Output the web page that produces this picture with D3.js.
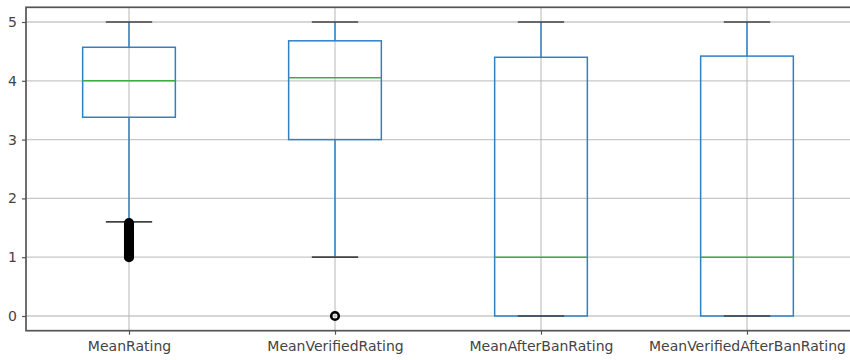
<!DOCTYPE html>
<html><head><meta charset="utf-8">
<script src="https://cdn.jsdelivr.net/npm/d3@7"></script>
<style>body{margin:0;background:#fff;}svg{display:block;font-family:"DejaVu Sans",sans-serif;}</style>
</head><body><svg id="c" width="850" height="360"></svg>
<script>
const categories = ["MeanRating","MeanVerifiedRating","MeanAfterBanRating","MeanVerifiedAfterBanRating"];
const whiskerLow  = [1.6, 1.0, 0.0, 0.0];
const q1          = [3.38, 3.0, 0.0, 0.0];
const median      = [4.0, 4.05, 1.0, 1.0];
const q3          = [4.57, 4.68, 4.4, 4.42];
const whiskerHigh = [5.0, 5.0, 5.0, 5.0];
const outliers = [
  [1.0,1.03,1.06,1.1,1.13,1.17,1.2,1.23,1.27,1.3,1.33,1.36,1.4,1.43,1.46,1.5,1.53,1.56,1.58],
  [0.0],
  [],
  []
];
const yTicks = [0,1,2,3,4,5];

const svg = d3.select("#c");
const L = 26, R = 850, T = 7.3, B = 330.7;
const x = d3.scaleLinear().domain([0.5, 4.5]).range([L, R]);
const y = d3.scaleLinear().domain([-0.25, 5.25]).range([B, T]);
const boxW = 0.45, capW = 0.225;
const blue = "#2f80c4", green = "#3fae3f";

// grid
const g = svg.append("g");
g.selectAll(".gy").data(yTicks).join("line")
  .attr("x1", L).attr("x2", R).attr("y1", d => y(d)).attr("y2", d => y(d))
  .attr("stroke", "#b0b0b0").attr("stroke-opacity", 0.7).attr("stroke-width", 1.3);
g.selectAll(".gx").data(categories).join("line")
  .attr("x1", (d,i) => x(i+1)).attr("x2", (d,i) => x(i+1)).attr("y1", T).attr("y2", B)
  .attr("stroke", "#b0b0b0").attr("stroke-opacity", 0.7).attr("stroke-width", 1.3);

// boxes
const bx = svg.append("g");
categories.forEach((c, i) => {
  const cx = x(i+1);
  const hw = (x(1+boxW/2) - x(1));
  const cw = (x(1+capW/2) - x(1));
  bx.append("line").attr("x1", cx).attr("x2", cx).attr("y1", y(q3[i])).attr("y2", y(whiskerHigh[i]))
    .attr("stroke", blue).attr("stroke-width", 1.5);
  bx.append("line").attr("x1", cx).attr("x2", cx).attr("y1", y(q1[i])).attr("y2", y(whiskerLow[i]))
    .attr("stroke", blue).attr("stroke-width", 1.5);
  bx.append("rect").attr("x", cx - hw).attr("width", 2*hw)
    .attr("y", y(q3[i])).attr("height", y(q1[i]) - y(q3[i]))
    .attr("fill", "none").attr("stroke", blue).attr("stroke-width", 1.5);
  bx.append("line").attr("x1", cx - hw).attr("x2", cx + hw).attr("y1", y(median[i])).attr("y2", y(median[i]))
    .attr("stroke", green).attr("stroke-width", 1.5);
  [whiskerLow[i], whiskerHigh[i]].forEach(v => {
    bx.append("line").attr("x1", cx - cw).attr("x2", cx + cw).attr("y1", y(v)).attr("y2", y(v))
      .attr("stroke", "#444").attr("stroke-width", 1.7);
  });
  bx.selectAll(null).data(outliers[i]).join("circle")
    .attr("cx", cx).attr("cy", d => y(d)).attr("r", 3.8)
    .attr("fill", "none").attr("stroke", "#000").attr("stroke-width", 2.6);
});

// frame (right edge falls just outside the picture)
svg.append("rect").attr("x", L).attr("y", T).attr("width", R + 2 - L).attr("height", B - T)
  .attr("fill", "none").attr("stroke", "#555").attr("stroke-width", 1.7);

// y axis
const ya = svg.append("g").attr("transform", `translate(${L},0)`)
  .call(d3.axisLeft(y).tickValues(yTicks).tickFormat(d3.format("d")).tickSize(4).tickPadding(5));
ya.select(".domain").remove();
ya.selectAll("line").attr("stroke", "#555").attr("stroke-width", 1.2);
ya.selectAll("text").attr("font-size", 14).attr("fill", "#444").attr("font-family", "DejaVu Sans");

// x axis
const xa = svg.append("g").attr("transform", `translate(0,${B})`)
  .call(d3.axisBottom(x).tickValues([1,2,3,4]).tickFormat((d) => categories[d-1]).tickSize(4).tickPadding(6));
xa.select(".domain").remove();
xa.selectAll("line").attr("stroke", "#555").attr("stroke-width", 1.2);
xa.selectAll("text").attr("font-size", 14).attr("fill", "#444").attr("font-family", "DejaVu Sans");
</script></body></html>
